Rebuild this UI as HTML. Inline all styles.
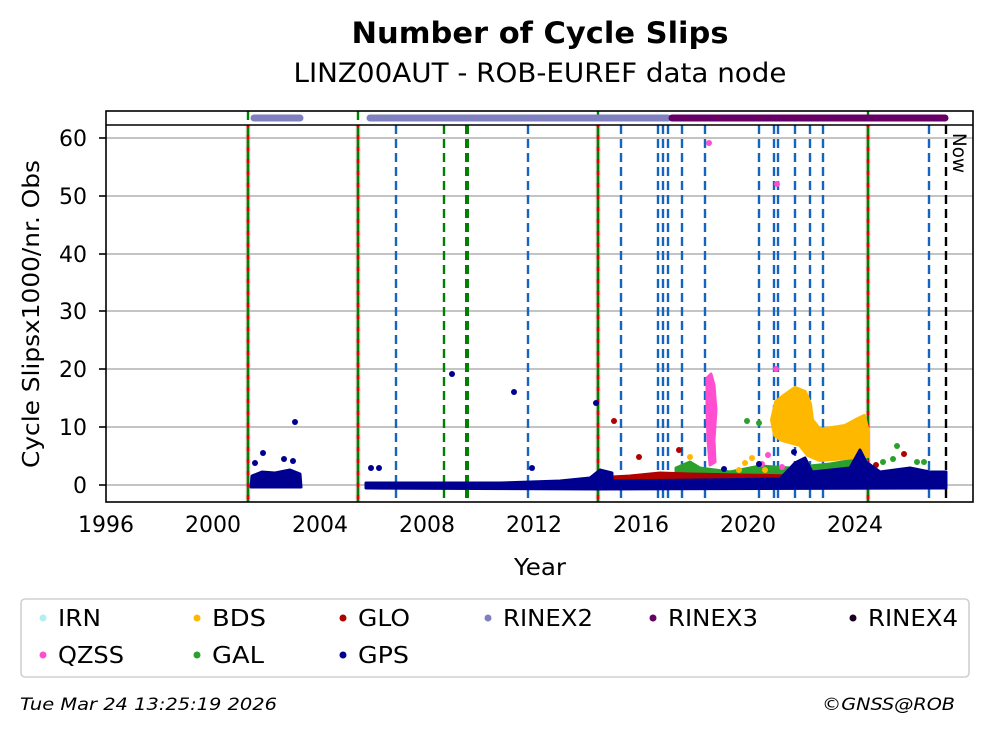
<!DOCTYPE html>
<html><head><meta charset="utf-8"><style>
html,body{margin:0;padding:0;background:#fff;}
svg{display:block;font-family:"DejaVu Sans","Liberation Sans",sans-serif;}
</style></head><body>
<svg width="992" height="734" viewBox="0 0 992 734" xmlns="http://www.w3.org/2000/svg">
<rect width="992" height="734" fill="#fff"/>
<text x="540" y="43" font-size="29" font-weight="bold" text-anchor="middle" textLength="377" lengthAdjust="spacingAndGlyphs">Number of Cycle Slips</text>
<text x="540" y="82" font-size="27" text-anchor="middle" textLength="493" lengthAdjust="spacingAndGlyphs">LINZ00AUT - ROB-EUREF data node</text>

<!-- grid -->
<g stroke="#b0b0b0" stroke-width="1.6">
<line x1="106" x2="973" y1="485" y2="485"/><line x1="106" x2="973" y1="427" y2="427"/>
<line x1="106" x2="973" y1="369" y2="369"/><line x1="106" x2="973" y1="311" y2="311"/>
<line x1="106" x2="973" y1="254" y2="254"/><line x1="106" x2="973" y1="196" y2="196"/>
<line x1="106" x2="973" y1="138" y2="138"/>
</g>

<!-- blue dashed events -->
<g stroke="#1565c0" stroke-width="2.4" stroke-dasharray="9,5">
<line x1="396" x2="396" y1="125" y2="502"/><line x1="528" x2="528" y1="125" y2="502"/>
<line x1="621" x2="621" y1="125" y2="502"/><line x1="658" x2="658" y1="125" y2="502"/>
<line x1="663" x2="663" y1="125" y2="502"/><line x1="668" x2="668" y1="125" y2="502"/>
<line x1="682" x2="682" y1="125" y2="502"/><line x1="705" x2="705" y1="125" y2="502"/>
<line x1="759" x2="759" y1="125" y2="502"/><line x1="774" x2="774" y1="125" y2="502"/>
<line x1="778" x2="778" y1="125" y2="502"/><line x1="795" x2="795" y1="125" y2="502"/>
<line x1="810" x2="810" y1="125" y2="502"/><line x1="823" x2="823" y1="125" y2="502"/>
<line x1="929" x2="929" y1="125" y2="502"/>
</g>
<g stroke="#008000" stroke-dasharray="9,5">
<line x1="444" x2="444" y1="125" y2="502" stroke-width="2.4"/>
<line x1="467" x2="467" y1="125" y2="502" stroke-width="4"/>
</g>
<line x1="946" x2="946" y1="125" y2="502" stroke="#000" stroke-width="2.4" stroke-dasharray="9,5"/>
<!-- red/green lines -->
<g stroke-width="2.6">
<g stroke="#e8b0b0" stroke-width="5" opacity="0.5">
<line x1="248" x2="248" y1="111" y2="502"/><line x1="358" x2="358" y1="111" y2="502"/>
<line x1="598" x2="598" y1="111" y2="502"/><line x1="868" x2="868" y1="111" y2="502"/></g>
<g stroke="#008000">
<line x1="248" x2="248" y1="111" y2="502"/><line x1="358" x2="358" y1="111" y2="502"/>
<line x1="598" x2="598" y1="111" y2="502"/><line x1="868" x2="868" y1="111" y2="502"/></g>
<g stroke="#e00000" stroke-dasharray="4,8">
<line x1="248" x2="248" y1="111" y2="502"/><line x1="358" x2="358" y1="111" y2="502"/>
<line x1="598" x2="598" y1="111" y2="502"/><line x1="868" x2="868" y1="111" y2="502"/></g>
</g>

<!-- data -->
<g stroke-linejoin="round">
<polygon fill="#2ca02c" stroke="#2ca02c" stroke-width="3" points="676,482 676,468 690,462 700,468 730,472 760,466 790,468 830,464 866,458 868,478 780,484"/>
<polygon fill="#ffb800" stroke="#ffb800" stroke-width="4" points="772,420 776,402 785,395 795,388 805,392 810,404 812,420 820,430 832,428 845,426 856,420 864,416 868,432 868,456 845,458 820,460 808,455 800,445 782,440 775,435"/>
<g fill="#ffb800"><circle cx="690" cy="457" r="3"/><circle cx="739" cy="470" r="3"/><circle cx="745" cy="463" r="3"/><circle cx="752" cy="458" r="3"/><circle cx="765" cy="470" r="3"/></g>
<polygon fill="#ff4fd0" stroke="#ff4fd0" stroke-width="3" points="707,378 711,374 714,385 716,410 714,440 715,462 710,465 708,440 707,410"/>
<g fill="#ff4fd0"><circle cx="709" cy="143" r="3"/><circle cx="777" cy="184" r="3"/><circle cx="776" cy="369" r="3"/><circle cx="768" cy="455" r="3"/><circle cx="762" cy="464" r="3"/><circle cx="782" cy="467" r="3"/></g>
<g fill="#2ca02c"><circle cx="747" cy="421" r="3"/><circle cx="759" cy="423" r="3"/><circle cx="893" cy="459" r="3"/><circle cx="897" cy="446" r="3"/><circle cx="883" cy="462" r="3"/><circle cx="917" cy="462" r="3"/><circle cx="924" cy="462" r="3"/></g>
<polygon fill="#b00000" stroke="#b00000" stroke-width="3" points="605,488 612,477 630,476 660,473 690,474 740,475 800,476 860,473 900,472 930,472 946,474 946,488"/>
<g fill="#b00000"><circle cx="614" cy="421" r="3"/><circle cx="639" cy="457" r="3"/><circle cx="679" cy="450" r="3"/><circle cx="904" cy="454" r="3"/><circle cx="876" cy="465" r="3"/></g>
<g fill="#000090" stroke="#000090">
<polygon stroke-width="3" points="251,487 252,476 262,472 275,473 290,470 300,474 301,487"/>
<polygon stroke-width="3" points="366,488 366,483 500,483 560,481 590,478 600,470 612,473 612,481 700,480 780,479 795,463 805,458 812,472 850,468 860,450 866,462 880,472 910,468 930,472 946,472 946,488 600,489"/>
</g>
<g fill="#000090">
<circle cx="255" cy="463" r="3"/><circle cx="263" cy="453" r="3"/><circle cx="284" cy="459" r="3"/><circle cx="293" cy="461" r="3"/><circle cx="295" cy="422" r="3"/>
<circle cx="371" cy="468" r="3"/><circle cx="379" cy="468" r="3"/><circle cx="452" cy="374" r="3"/><circle cx="514" cy="392" r="3"/><circle cx="532" cy="468" r="3"/><circle cx="596" cy="403" r="3"/><circle cx="724" cy="469" r="3"/><circle cx="759" cy="464" r="3"/><circle cx="794" cy="452" r="3"/>
</g>
</g>

<!-- top band -->
<rect x="106" y="111" width="867" height="14" fill="#fff"/>
<g stroke-width="2.4" stroke-dasharray="9,5"><line x1="248" x2="248" y1="111" y2="125" stroke="#008000"/><line x1="358" x2="358" y1="111" y2="125" stroke="#008000"/><line x1="598" x2="598" y1="111" y2="125" stroke="#008000"/><line x1="868" x2="868" y1="111" y2="125" stroke="#008000"/></g>
<g stroke-linecap="round" stroke-width="7">
<line x1="254" x2="300" y1="118" y2="118" stroke="#8080c0"/>
<line x1="370" x2="668" y1="118" y2="118" stroke="#8080c0"/>
<line x1="672" x2="945" y1="118" y2="118" stroke="#660066"/>
</g>
<line x1="106" x2="973" y1="125" y2="125" stroke="#000" stroke-width="1.6"/>
<rect x="106" y="111" width="867" height="391" fill="none" stroke="#000" stroke-width="1.6"/>
<text x="0" y="0" font-size="19" transform="translate(953,133) rotate(90)" textLength="40" lengthAdjust="spacingAndGlyphs">Now</text>

<!-- y ticks -->
<g stroke="#000" stroke-width="1.6">
<line x1="99" x2="106" y1="485" y2="485"/><line x1="99" x2="106" y1="427" y2="427"/><line x1="99" x2="106" y1="369" y2="369"/><line x1="99" x2="106" y1="311" y2="311"/><line x1="99" x2="106" y1="254" y2="254"/><line x1="99" x2="106" y1="196" y2="196"/><line x1="99" x2="106" y1="138" y2="138"/>
</g>
<g font-size="22" text-anchor="end">
<text x="87" y="493">0</text><text x="87" y="435">10</text><text x="87" y="377">20</text><text x="87" y="319">30</text><text x="87" y="262">40</text><text x="87" y="204">50</text><text x="87" y="146">60</text>
</g>
<text font-size="23" text-anchor="middle" transform="translate(39,314) rotate(-90)" textLength="308" lengthAdjust="spacingAndGlyphs">Cycle Slipsx1000/nr. Obs</text>

<!-- x ticks -->
<g stroke="#000" stroke-width="1.6" id="xt"></g>
<g font-size="22" text-anchor="middle">
<text x="106" y="532">1996</text><text x="213" y="532">2000</text><text x="320" y="532">2004</text><text x="427" y="532">2008</text><text x="534" y="532">2012</text><text x="641" y="532">2016</text><text x="748" y="532">2020</text><text x="855" y="532">2024</text>
</g>
<text x="540" y="575" font-size="23" text-anchor="middle" textLength="52" lengthAdjust="spacingAndGlyphs">Year</text>

<!-- legend -->
<rect x="21" y="599" width="948" height="78" rx="4" fill="#fff" stroke="#d0d0d0" stroke-width="1.6"/>
<g font-size="23">
<circle cx="43" cy="618" r="3.5" fill="#b0f0f0"/><text x="58" y="626" textLength="43" lengthAdjust="spacingAndGlyphs">IRN</text>
<circle cx="197" cy="618" r="3.5" fill="#ffb800"/><text x="212" y="626" textLength="54" lengthAdjust="spacingAndGlyphs">BDS</text>
<circle cx="343" cy="618" r="3.5" fill="#b00000"/><text x="358" y="626" textLength="52" lengthAdjust="spacingAndGlyphs">GLO</text>
<circle cx="488" cy="618" r="3.5" fill="#8080c0"/><text x="503" y="626" textLength="90" lengthAdjust="spacingAndGlyphs">RINEX2</text>
<circle cx="653" cy="618" r="3.5" fill="#660066"/><text x="668" y="626" textLength="90" lengthAdjust="spacingAndGlyphs">RINEX3</text>
<circle cx="853" cy="618" r="3.5" fill="#1a0020"/><text x="868" y="626" textLength="90" lengthAdjust="spacingAndGlyphs">RINEX4</text>
<circle cx="43" cy="655" r="3.5" fill="#ff4fd0"/><text x="58" y="663" textLength="66" lengthAdjust="spacingAndGlyphs">QZSS</text>
<circle cx="197" cy="655" r="3.5" fill="#2ca02c"/><text x="212" y="663" textLength="52" lengthAdjust="spacingAndGlyphs">GAL</text>
<circle cx="343" cy="655" r="3.5" fill="#000090"/><text x="358" y="663" textLength="51" lengthAdjust="spacingAndGlyphs">GPS</text>
</g>
<text x="20" y="710" font-size="17" font-style="italic" textLength="257" lengthAdjust="spacingAndGlyphs">Tue Mar 24 13:25:19 2026</text>
<text x="822" y="710" font-size="17" font-style="italic" textLength="133" lengthAdjust="spacingAndGlyphs">©GNSS@ROB</text>
<script>
var g=document.getElementById('xt'),s='';
for(var i=0;i<=62;i++){var x=106+i*13.375;var major=(i%8==0);s+='<line x1="'+x+'" x2="'+x+'" y1="502" y2="'+(major?509:506)+'"/>';}
g.innerHTML=s;
</script>
</svg>
</body></html>
